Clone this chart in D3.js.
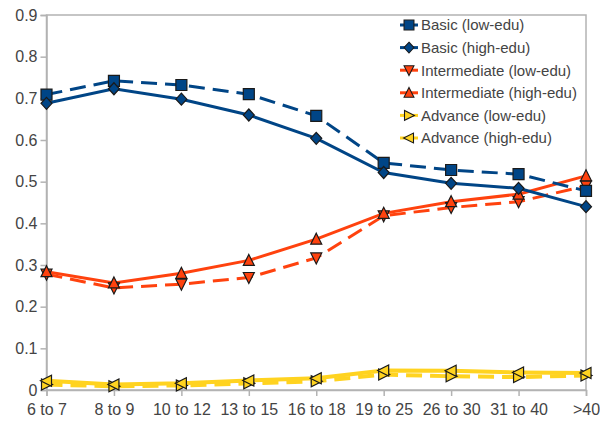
<!DOCTYPE html>
<html><head><meta charset="utf-8">
<script src="https://cdn.jsdelivr.net/npm/d3@7"></script>
<style>body{margin:0;background:#fff;} text{font-family:"Liberation Sans",Arial,sans-serif;fill:#444;}</style>
</head><body><svg id="c" width="600" height="422"></svg>
<script>
const categories = ["6 to 7","8 to 9","10 to 12","13 to 15","16 to 18","19 to 25","26 to 30","31 to 40",">40"];
const yTicks = [0,0.1,0.2,0.3,0.4,0.5,0.6,0.7,0.8,0.9];
const basicLow = [0.709,0.742,0.732,0.710,0.658,0.545,0.528,0.518,0.478];
const basicHigh = [0.688,0.723,0.698,0.660,0.604,0.522,0.496,0.484,0.440];
const interLow = [0.278,0.245,0.254,0.270,0.317,0.418,0.438,0.452,0.490];
const interHigh = [0.284,0.257,0.280,0.311,0.362,0.424,0.452,0.470,0.514];
const advLow = [0.013,0.009,0.011,0.016,0.021,0.037,0.033,0.031,0.035];
const advHigh = [0.022,0.013,0.016,0.023,0.028,0.047,0.046,0.042,0.041];
const seriesNames = ["Basic (low-edu)","Basic (high-edu)","Intermediate (low-edu)","Intermediate (high-edu)","Advance (low-edu)","Advance (high-edu)"];

const series = [
  {name:seriesNames[0], values:basicLow, color:"#004586", dash:true, marker:"square"},
  {name:seriesNames[1], values:basicHigh, color:"#004586", dash:false, marker:"diamond"},
  {name:seriesNames[2], values:interLow, color:"#ff420e", dash:true, marker:"down"},
  {name:seriesNames[3], values:interHigh, color:"#ff420e", dash:false, marker:"up"},
  {name:seriesNames[4], values:advLow, color:"#ffd320", dash:true, marker:"right"},
  {name:seriesNames[5], values:advHigh, color:"#ffd320", dash:false, marker:"left"}
];

const svg = d3.select("#c");
const L=46.5, R=586, T=15, B=390;
const x = d3.scalePoint().domain(categories).range([L,R]);
const y = d3.scaleLinear().domain([0,0.9]).range([B,T]);

svg.append("rect").attr("x",L).attr("y",T).attr("width",R-L).attr("height",B-T)
  .attr("fill","none").attr("stroke","#b3b3b3").attr("stroke-width",1.5);

const yAxis = svg.append("g").attr("transform",`translate(${L},0)`)
  .call(d3.axisLeft(y).tickValues(yTicks).tickSize(6).tickPadding(3).tickFormat(d=>d===0?"0":d3.format(".1f")(d)));
const xAxis = svg.append("g").attr("transform",`translate(0,${B})`)
  .call(d3.axisBottom(x).tickSize(6).tickPadding(8));
[yAxis,xAxis].forEach(a=>{
  a.select(".domain").attr("stroke","#b3b3b3").attr("stroke-width",1.5);
  a.selectAll(".tick line").attr("stroke","#b3b3b3").attr("stroke-width",1.5);
  a.selectAll("text").style("font-size","16px").style("font-family","'Liberation Sans',Arial,sans-serif").attr("fill","#444");
});

function markerPath(type){
  const s=5.5;
  switch(type){
    case "square": return `M${-s},${-s}H${s}V${s}H${-s}Z`;
    case "diamond": return `M0,-6L5.5,0L0,6L-5.5,0Z`;
    case "up": return `M0,-6L5.5,5L-5.5,5Z`;
    case "down": return `M0,6L5.5,-5L-5.5,-5Z`;
    case "right": return `M6,0L-5,5.5L-5,-5.5Z`;
    case "left": return `M-6,0L5,5.5L5,-5.5Z`;
  }
}
const line = d3.line().x((d,i)=>x(categories[i])).y(d=>y(d));

const order=[4,5,2,3,0,1];
order.forEach(k=>{
  const s=series[k];
  svg.append("path").datum(s.values).attr("d",line).attr("fill","none")
    .attr("stroke",s.color).attr("stroke-width",s.color==="#ffd320"?4:3)
    .attr("stroke-dasharray",s.dash?"16,8":null);
});
order.forEach(k=>{
  const s=series[k];
  svg.append("g").selectAll("path").data(s.values).join("path")
    .attr("d",markerPath(s.marker))
    .attr("transform",(d,i)=>`translate(${x(categories[i])},${y(d)})`)
    .attr("fill",s.color).attr("stroke","#1a1a1a").attr("stroke-width",1.2);
});

const lg = svg.append("g");
series.forEach((s,i)=>{
  const cy = 25 + i*22.6;
  const g = lg.append("g").attr("transform",`translate(0,${cy})`);
  g.append("line").attr("x1",400).attr("x2",418).attr("y1",0).attr("y2",0)
    .attr("stroke",s.color).attr("stroke-width",3);
  g.append("path").attr("d",markerPath(s.marker)).attr("transform","translate(409,0) scale(0.9)")
    .attr("fill",s.color).attr("stroke","#1a1a1a").attr("stroke-width",1.2);
  g.append("text").attr("x",421).attr("y",0).attr("dy","0.36em")
    .style("font-size","15px").text(s.name);
});
</script></body></html>
